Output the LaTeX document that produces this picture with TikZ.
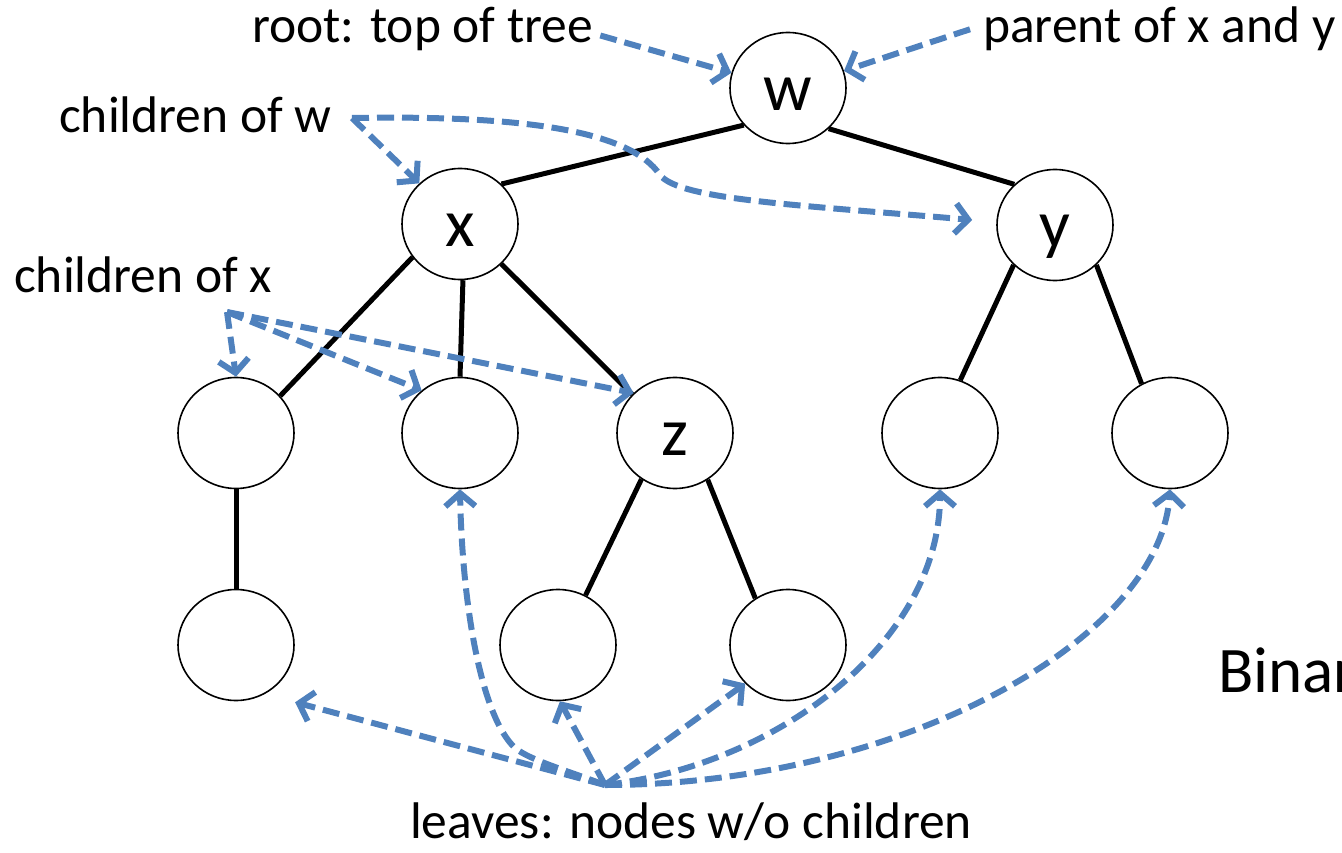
\documentclass[tikz,border=0pt]{standalone}
\usepackage{fontspec}
\setmainfont{Carlito}
\usetikzlibrary{arrows.meta,shapes.geometric}

\definecolor{ptrblue}{HTML}{4F81BD}

\tikzset{
  tnode/.style={draw,ellipse,line width=1.6pt,fill=white,inner sep=0pt,
    minimum width=116pt,minimum height=111pt,
    font=\fontsize{68}{68}\selectfont,text height=50pt,text depth=4.4pt},
  treeline/.style={line width=5pt},
  note/.style={inner sep=0pt,font=\fontsize{51.5}{52}\selectfont},
  pointer/.style={ptrblue,line width=6pt,dash pattern=on 17pt off 8pt,
    -{Straight Barb[length=13pt,width=30pt]}},
}

\begin{document}
\begin{tikzpicture}[x=1pt,y=-1pt]
      \useasboundingbox (0,0) rectangle (1342,853);
      % tree
      \node[tnode] (nw) at (788,88) {w};
      \node[tnode] (nx) at (460,224) {x};
      \node[tnode] (ny) at (1055,225) {y};
      \node[tnode] (la) at (236,433) {};
      \node[tnode] (lb) at (460,433) {};
      \node[tnode] (nz) at (675,433) {z};
      \node[tnode] (ya) at (940,433) {};
      \node[tnode] (yb) at (1170,433) {};
      \node[tnode] (lc) at (236,645) {};
      \node[tnode] (za) at (558,645) {};
      \node[tnode] (zb) at (788,645) {};
      \draw[treeline] (nw.220)--(nx.44);
      \draw[treeline] (nw.-45)--(ny.135);
      \draw[treeline] (nx.215)--(la.40);
      \draw[treeline] (nx.-87)--(lb.north);
      \draw[treeline] (nx.-44)--(nz.138);
      \draw[treeline] (ny.224)--(ya.69);
      \draw[treeline] (ny.-44)--(yb.120);
      \draw[treeline] (la.south)--(lc.north);
      \draw[treeline] (nz.234)--(za.61);
      \draw[treeline] (nz.-55)--(zb.125);
      % labels
      \node[note,anchor=base west] (root) at (252,43) {root: top of tree};
      \node[note,anchor=base west] (par) at (983,43) {parent of x and y};
      \node[note,anchor=base west] (chw) at (59,133) {children of w};
      \node[note,anchor=base west] (chx) at (14,293) {children of x};
      \node[note,anchor=base west] (leaf) at (410,838) {leaves: nodes w/o children};
      \node[inner sep=0pt,anchor=base west,font=\fontsize{65}{65}\selectfont] (bin) at (1218,692) {Binar};
      \coordinate (cw) at (352,118);
      \coordinate (cx) at (227,312);
      \coordinate (src) at (605,785);
      % pointers
      \draw[pointer] ([shift={(7pt,-6pt)}]root.east)--(nw.165);
      \draw[pointer] ([xshift=-13pt]par.west)--(nw.17);
      \draw[pointer] (cw)--(nx.135);
      \draw[pointer] (cw) .. controls (520,115) and (630,130) .. (660,175)
            .. controls (680,200) and (800,205) .. ([shift={(-24pt,5pt)}]ny.west);
      \draw[pointer] (cx)--(la.north);
      \draw[pointer] (cx)--(lb.132);
      \draw[pointer] (cx)--(nz.136);
      \draw[pointer] (src)--([shift={(17pt,-18pt)}]lc.-43);
      \draw[pointer] (src) .. controls (565,770) and (530,760) .. (515,748)
            .. controls (480,715) and (462,600) .. (lb.south);
      \draw[pointer] (src)--(za.-88);
      \draw[pointer] (src)--(zb.222);
      \draw[pointer] (src) .. controls (780,765) and (940,640) .. (ya.south);
      \draw[pointer] (src) .. controls (900,785) and (1160,640) .. (yb.south);
\end{tikzpicture}
\end{document}
